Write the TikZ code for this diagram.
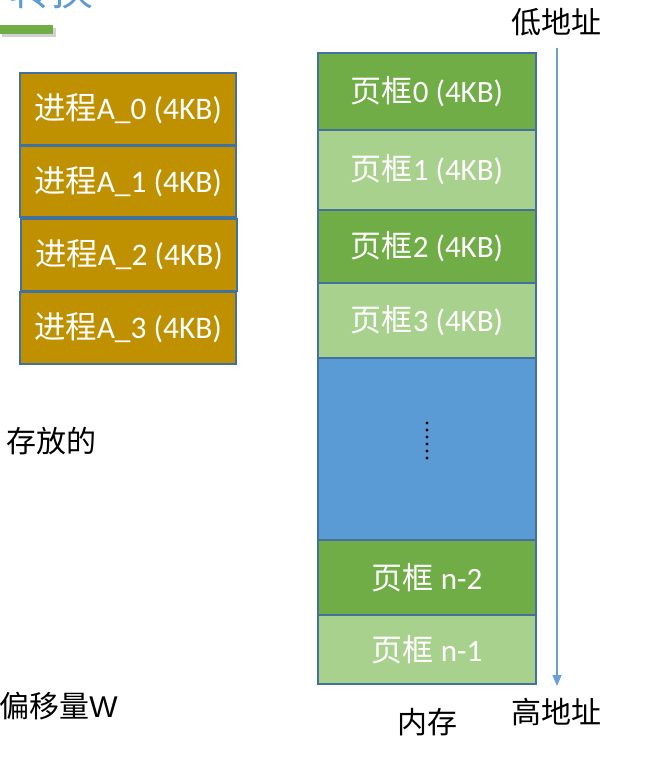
\documentclass[tikz,border=0pt]{standalone}
\usepackage{fontspec}
\setmainfont{Carlito}
\newfontfamily\cjk{Noto Sans CJK SC}
\newfontfamily\arial{Liberation Sans}
\usetikzlibrary{arrows.meta}
\definecolor{procc}{HTML}{BF9000}
\definecolor{bordc}{HTML}{41719C}
\definecolor{dgreen}{HTML}{70AD47}
\definecolor{lgreen}{HTML}{A9D18E}
\definecolor{bluec}{HTML}{5B9BD5}
\definecolor{arrowc}{HTML}{6A9FD8}
\definecolor{titlec}{HTML}{5B9BD5}
\tikzset{
  procbox/.style={draw=bordc, line width=1.5pt, fill=procc, text=white,
    minimum width=216pt, minimum height=72pt, inner sep=0pt,
    font=\fontsize{31.4}{31.4}\selectfont},
  framebox/.style={draw=bordc, line width=1.5pt, text=white,
    minimum width=218pt, inner sep=0pt,
    font=\fontsize{31}{31}\selectfont},
  lbl/.style={font=\cjk\fontsize{30}{30}\selectfont, inner sep=0pt, text=black}
}
\begin{document}
\begin{tikzpicture}[x=1pt,y=-1pt]
\useasboundingbox (0,0) rectangle (671,758);
\clip (0,0) rectangle (671,758);
\fill[white] (0,0) rectangle (671,758);
% title remnants
\node[anchor=base west, text=titlec, font=\cjk\fontsize{42}{42}\selectfont, inner sep=0pt] (title) at (9,5.5) {转换};
\fill[black!18] (2,28) rectangle (56,37);
\fill[dgreen] (0,25) rectangle (53,34);
% process pages
\node[procbox] (p0) at (128,109) {{\cjk 进程}A\_0 (4KB)};
\node[procbox, minimum height=71pt] (p1) at (128,181.5) {{\cjk 进程}A\_1 (4KB)};
\node[procbox] (p2) at (129,255) {{\cjk 进程}A\_2 (4KB)};
\node[procbox] (p3) at (128,328) {{\cjk 进程}A\_3 (4KB)};
% memory frames
\node[framebox, fill=dgreen, minimum height=77pt] (f0) at (427,91.5) {{\cjk 页框}0 (4KB)};
\node[framebox, fill=lgreen, minimum height=80pt] (f1) at (427,170) {{\cjk 页框}1 (4KB)};
\node[framebox, fill=dgreen, minimum height=73pt] (f2) at (427,246.5) {{\cjk 页框}2 (4KB)};
\node[framebox, fill=lgreen, minimum height=75pt] (f3) at (427,320.5) {{\cjk 页框}3 (4KB)};
\node[framebox, fill=bluec, minimum height=182pt] (fb) at (427,449) {};
\node[framebox, fill=dgreen, minimum height=75pt] (fn2) at (427,577.5) {{\cjk 页框} n-2};
\node[framebox, fill=lgreen, minimum height=69pt] (fn1) at (427,649.5) {{\cjk 页框} n-1};
% dots
\foreach \yy in {423,430,437,444,451,458} \fill[black] (427,\yy) circle (1.7pt);
% address arrow
\coordinate (atop) at (557,48);
\coordinate (abot) at (557,686);
\draw[arrowc, line width=1.5pt, -{Triangle[width=9pt,length=11pt]}] (atop) -- (abot);
% labels
\node[lbl] (low) at (556,22) {低地址};
\node[lbl] (high) at (556,712) {高地址};
\node[lbl] (mem) at (427,722) {内存};
\node[lbl, anchor=east] (stored) at (97,441) {存放的};
\node[lbl, anchor=east] (offset) at (118,706) {偏移量{\arial W}};
\end{tikzpicture}
\end{document}
